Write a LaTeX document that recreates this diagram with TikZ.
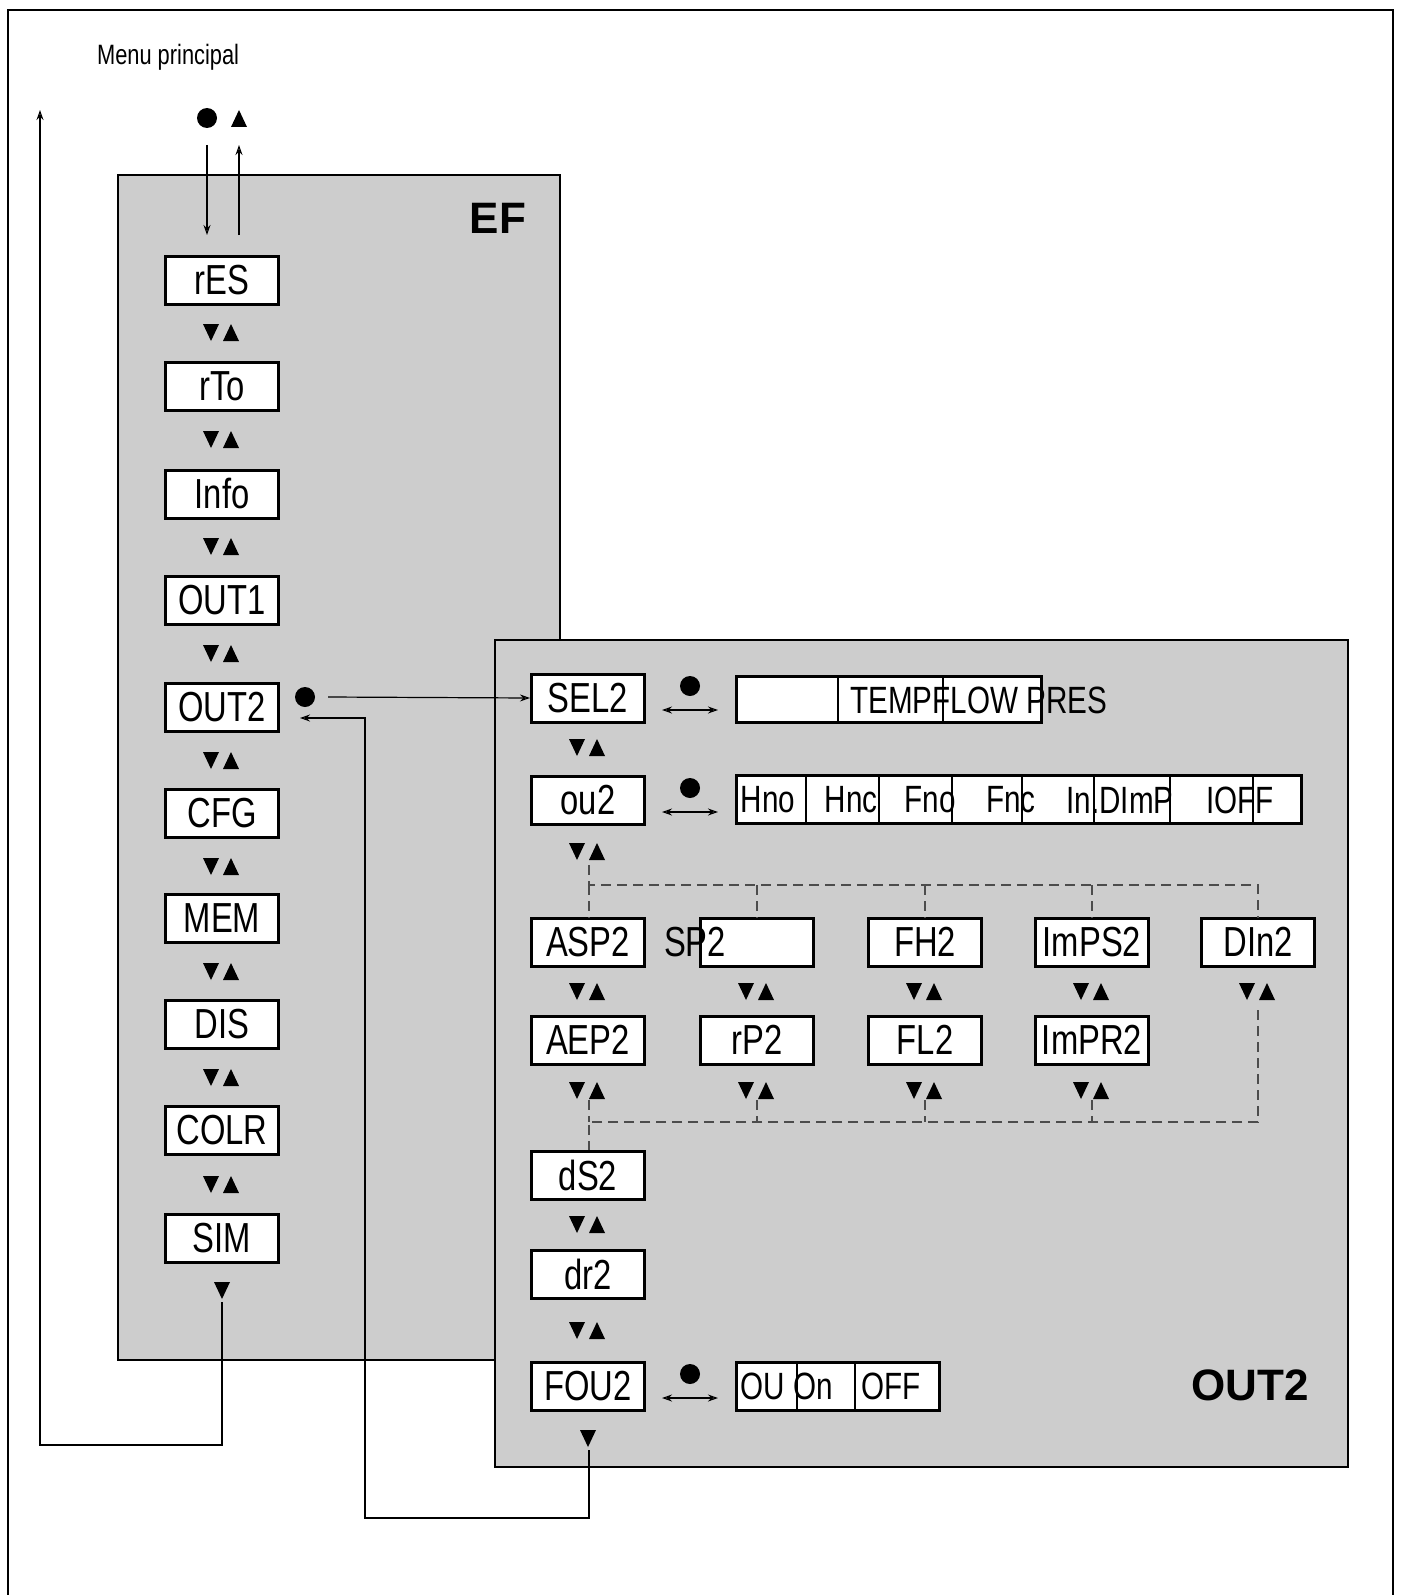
\documentclass[tikz,border=0pt]{standalone}
\usepackage{fontspec}
\setmainfont{Liberation Sans}[FakeStretch=0.78]
\newfontfamily\boldf{Liberation Sans}[FakeStretch=1.0]
\usetikzlibrary{arrows.meta}
\definecolor{panel}{RGB}{205,205,205}
\tikzset{
 box/.style={draw,line width=1.5pt,fill=white,minimum width=56.5pt,minimum height=24pt,inner sep=0pt,font=\fontsize{21}{21}\selectfont},
 opt/.style={draw,line width=1.5pt,fill=white,inner sep=0pt},
 lbl/.style={font=\fontsize{19}{19}\selectfont,inner sep=0pt},
 thin/.style={line width=0.6pt},
 arr/.style={thin,-{Stealth[length=5pt,width=3.5pt,open]}},
 dsh/.style={line width=0.8pt,dash pattern=on 5pt off 3pt,draw=black!70},
 tri/.style={fill=black},
}
\newcommand{\dn}[2]{\fill[tri] (#1-8,#2-8) -- (#1+8,#2-8) -- (#1,#2+9) -- cycle;}
\newcommand{\up}[2]{\fill[tri] (#1-8,#2+9) -- (#1+8,#2+9) -- (#1,#2-8) -- cycle;}
\newcommand{\ud}[2]{\dn{#1-11}{#2}\up{#1+9}{#2}}
\begin{document}
\begin{tikzpicture}[x=0.5pt,y=-0.5pt]
\useasboundingbox (0,0) rectangle (1415,1595);
\fill[white] (0,0) rectangle (1415,1595);
\draw[line width=1.2pt] (8,1600) -- (8,10) -- (1393,10) -- (1393,1600);
% EF panel
\fill[panel] (118,175) rectangle (560,1360);
\draw[thin] (118,1360) -- (118,175) -- (560,175) -- (560,1360) -- cycle;
\node[font=\fontsize{14}{14}\selectfont,anchor=west] (menu) at (90,57) {Menu principal};
\fill (207,118) circle (10);
\up{239}{118}
\coordinate (d1) at (207,145); \coordinate (d2) at (207,235);
\coordinate (u1) at (239,235); \coordinate (u2) at (239,145);
\draw[arr] (d1) -- (d2); \draw[arr] (u1) -- (u2);
\node[font=\boldf\bfseries\fontsize{22}{22}\selectfont] (ef) at (498,218) {EF};
\foreach \n/\t/\y in {res/rES/280,rto/rTo/386,info/Info/494,out1/OUT1/600,out2/OUT2/707,cfg/CFG/813,mem/MEM/918,dis/DIS/1024,colr/COLR/1130,sim/SIM/1238}
  \node[box] (\n) at (222,\y) {\t};
\foreach \y in {332,439,546,653,760,866,971,1077,1184} {\ud{222}{\y}}
\dn{222}{1290}
\coordinate (s1) at (222,1302); \coordinate (s2) at (40,1445); \coordinate (s3) at (40,110);
\draw[arr] (s1) |- (s2) -- (s3);
% OUT2 panel
\fill[panel] (495,640) rectangle (1348,1467);
\draw[thin] (495,640) rectangle (1348,1467);
\fill (305,697) circle (10);
\foreach \n/\t/\y in {sel/SEL2/698,ou/ou2/800,asp/ASP2/942,aep/AEP2/1040,ds/dS2/1175,dr/dr2/1274,fou/FOU2/1386}
  \node[box] (\n) at (588,\y) {\t};
\node[box] (sp) at (757,942) {};
\node[font=\fontsize{21}{21}\selectfont,inner sep=0pt] (spt) at (695,942) {SP2};
\node[box] (rp) at (757,1040) {rP2};
\node[box] (fh) at (925,942) {FH2};
\node[box] (fl) at (925,1040) {FL2};
\node[box] (imps) at (1092,942) {ImPS2};
\node[box] (impr) at (1092,1040) {ImPR2};
\node[box] (din) at (1258,942) {DIn2};
\coordinate (o1) at (328,697);
\draw[arr] (o1) -- (sel.west);
\coordinate (r1) at (589,1450); \coordinate (r2) at (365,1518); \coordinate (r3) at (365,718); \coordinate (r4) at (300,718);
\draw[arr] (r1) |- (r2) |- (r4);
\foreach \y in {747,851,1224,1330} {\ud{588}{\y}}
\foreach \x in {588,757,925,1092,1258} {\ud{\x}{991}}
\foreach \x in {588,757,925,1092} {\ud{\x}{1090}}
\dn{588}{1438}
% dashed
\draw[dsh] (589,865) -- (589,885) -- (1258,885) -- (1258,918);
\foreach \x in {589,757,925,1092} {\draw[dsh] (\x,885) -- (\x,918);}
\draw[dsh] (1258,1010) -- (1258,1122) -- (589,1122) -- (589,1150);
\foreach \x in {589,757,925,1092} {\draw[dsh] (\x,1100) -- (\x,1122);}
% option selectors
\foreach \y/\dy in {698/0,800/0,1386/0} {
  \fill (690,\y-12) circle (10);
  \draw[thin,{Stealth[length=5pt,width=3.5pt,open]}-{Stealth[length=5pt,width=3.5pt,open]}] (662,\y+12) -- (718,\y+12);
}
\node[opt,minimum width=152.5pt,minimum height=23pt,anchor=west] (o1b) at (735,699) {};
\foreach \x in {838,943} {\draw[thin] (\x,677) -- (\x,721);}
\node[lbl,anchor=west] (t1) at (850,700) {TEMPFLOW PRES};
\node[opt,minimum width=282.5pt,minimum height=24pt,anchor=west] (o2b) at (735,799) {};
\foreach \x in {806,879,952,1022,1094,1170,1253} {\draw[thin] (\x,776) -- (\x,822);}
\foreach \x/\t in {768/Hno,851/Hnc,930/Fno,1011/Fnc,1120/In.DImP,1240/IOFF} {\node[lbl] at (\x,800) {\t};}
\node[opt,minimum width=101.5pt,minimum height=24pt,anchor=west] (o3b) at (735,1386) {};
\foreach \x in {797,855} {\draw[thin] (\x,1363) -- (\x,1409);}
\node[lbl] (t3a) at (787,1386) {OU On};
\node[lbl] (t3b) at (891,1386) {OFF};
\node[font=\boldf\bfseries\fontsize{22}{22}\selectfont] (o2l) at (1250,1385) {OUT2};
\end{tikzpicture}
\end{document}
